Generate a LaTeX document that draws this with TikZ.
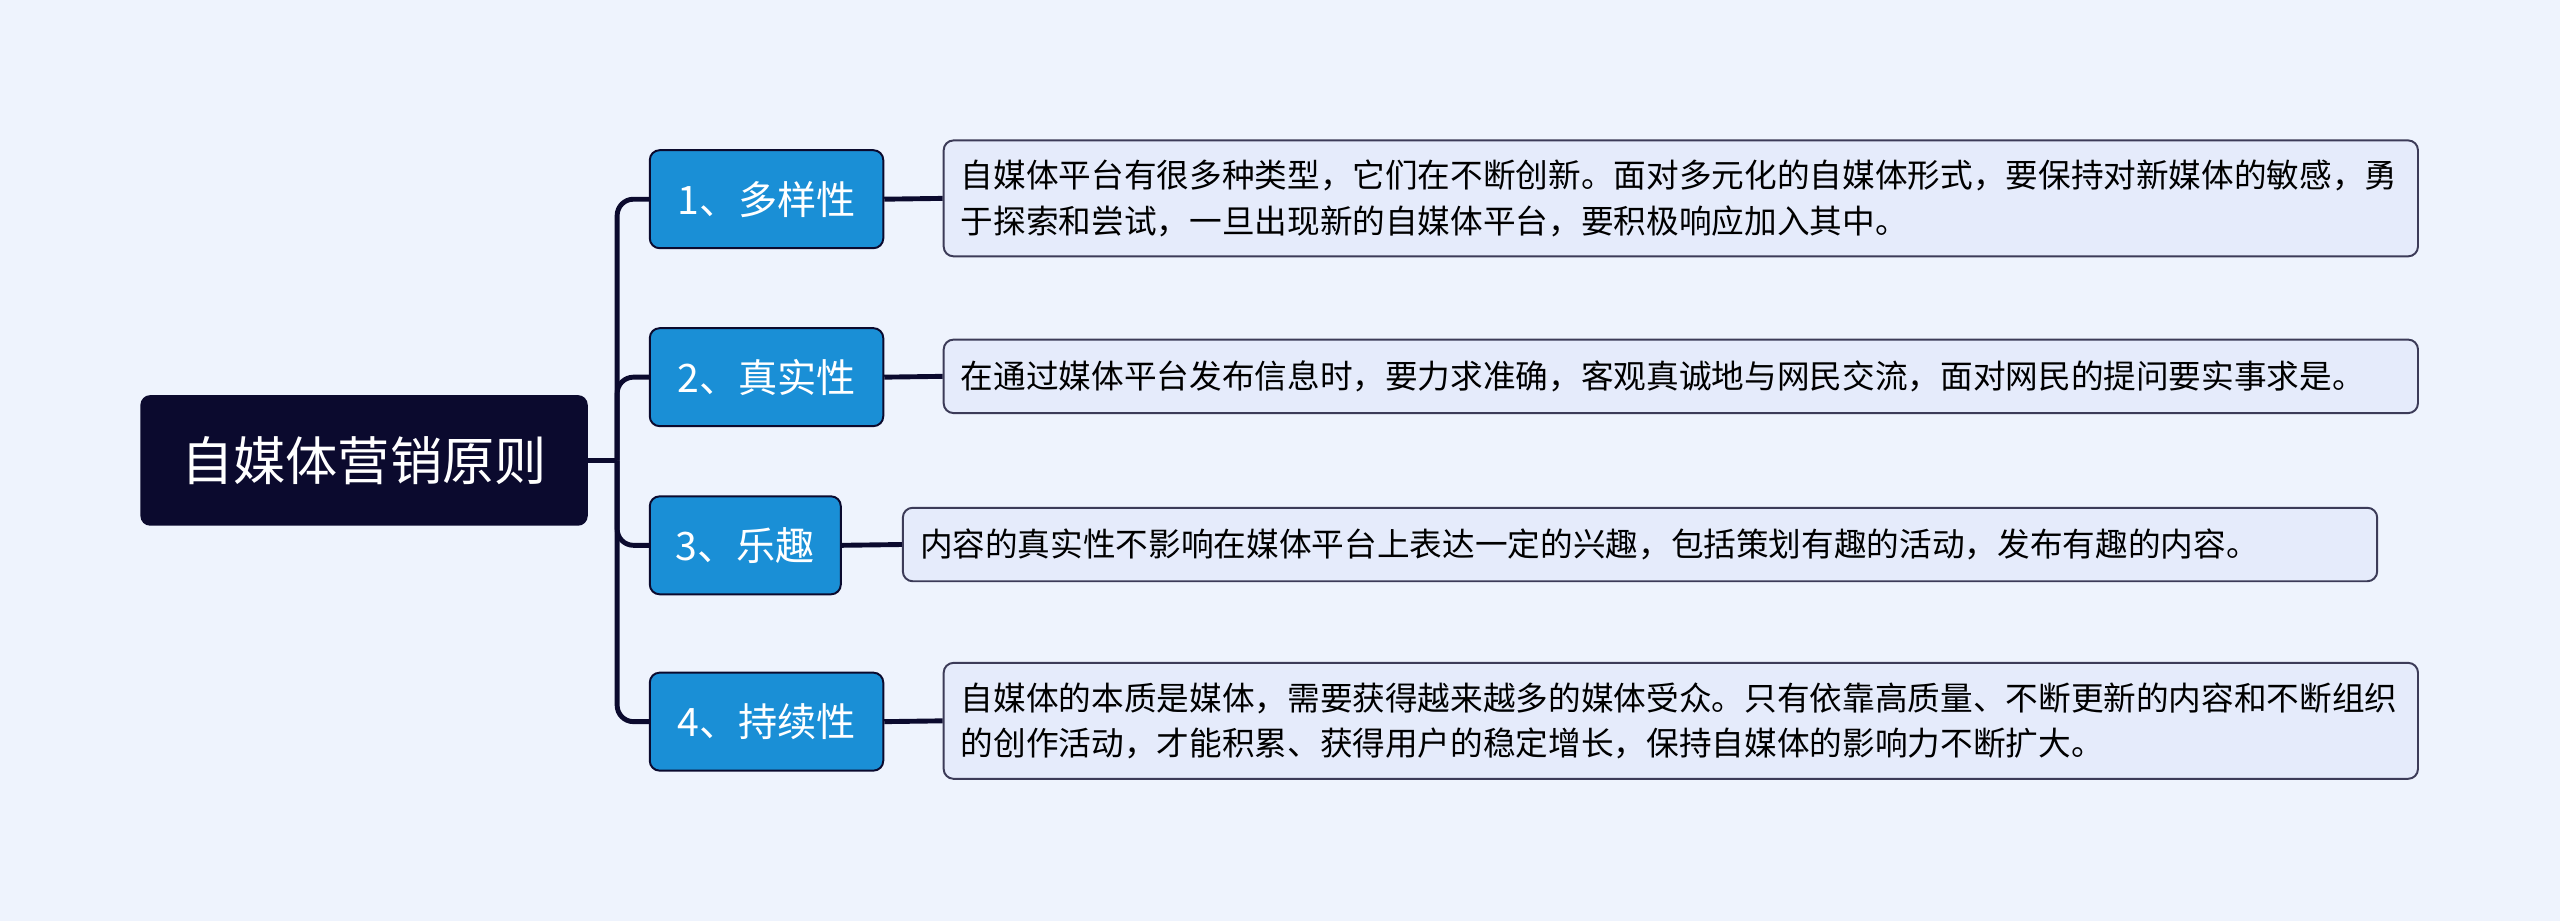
\documentclass[tikz,border=0pt]{standalone}
\usepackage{fontspec}
\setmainfont{Noto Sans CJK SC}
\usetikzlibrary{positioning}
\definecolor{bgcol}{HTML}{EEF3FD}
\definecolor{rootcol}{HTML}{0B0A2E}
\definecolor{topiccol}{HTML}{1A8FD6}
\definecolor{notecol}{HTML}{E5EBFB}
\tikzset{
  rootbox/.style={fill=rootcol,text=white,rounded corners=3pt,minimum width=137pt,minimum height=40pt,inner sep=0pt,font=\fontsize{16}{19}\selectfont},
  topicbox/.style={fill=topiccol,draw=rootcol,line width=0.6pt,text=white,rounded corners=3pt,minimum height=30pt,inner sep=0pt,font=\fontsize{12}{14}\selectfont},
  notebox/.style={fill=notecol,draw=rootcol!80,line width=0.6pt,rounded corners=3pt,minimum width=451.5pt,align=left,text width=441pt,inner sep=5pt,font=\fontsize{10}{14}\selectfont},
  link/.style={draw=rootcol,line width=1.5pt,rounded corners=5pt}
}
\begin{document}
\begin{tikzpicture}[x=0.5pt,y=-0.5pt]
\fill[bgcol] (0,0) rectangle (1568,564);
\node[rootbox] (root) at (223,282) {自媒体营销原则};
% topics
\node[topicbox,minimum width=71.5pt] (t1) at (469.5,122) {1、多样性};
\node[topicbox,minimum width=71.5pt] (t2) at (469.5,231) {2、真实性};
\node[topicbox,minimum width=58.5pt] (t3) at (456.5,334) {3、乐趣};
\node[topicbox,minimum width=71.5pt] (t4) at (469.5,442) {4、持续性};
% notes
\node[notebox,minimum height=35.5pt] (n1) at (1029.5,121.5) {自媒体平台有很多种类型，它们在不断创新。面对多元化的自媒体形式，要保持对新媒体的敏感，勇\\于探索和尝试，一旦出现新的自媒体平台，要积极响应加入其中。};
\node[notebox,minimum height=22.5pt] (n2) at (1029.5,230.5) {在通过媒体平台发布信息时，要力求准确，客观真诚地与网民交流，面对网民的提问要实事求是。};
\node[notebox,minimum height=22.5pt] (n3) at (1004.5,333.5) {内容的真实性不影响在媒体平台上表达一定的兴趣，包括策划有趣的活动，发布有趣的内容。};
\node[notebox,minimum height=35.5pt] (n4) at (1029.5,441.5) {自媒体的本质是媒体，需要获得越来越多的媒体受众。只有依靠高质量、不断更新的内容和不断组织\\的创作活动，才能积累、获得用户的稳定增长，保持自媒体的影响力不断扩大。};
% links
\coordinate (fork) at (378,282);
\draw[link] (root.east) -- (fork);
\foreach \t/\n in {t1/n1,t2/n2,t3/n3,t4/n4}{
  \draw[link] (fork) |- (\t.west);
  \draw[link] (\t.east) -- (\n.west);
}
\end{tikzpicture}
\end{document}
